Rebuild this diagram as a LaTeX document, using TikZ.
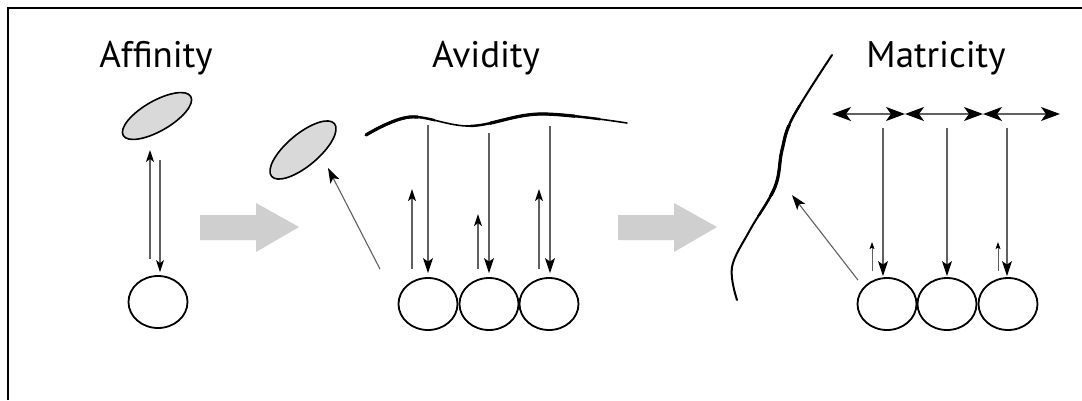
\documentclass[tikz,border=0pt]{standalone}
\usepackage{fontspec}
\setmainfont{PT Sans}
\usetikzlibrary{shapes.geometric,arrows.meta,calc}
\begin{document}
\begin{tikzpicture}[x=1pt,y=-1pt,
  cell/.style={draw=black,line width=1.8pt,ellipse,minimum width=59pt,minimum height=52pt,inner sep=0pt},
  ligand/.style={draw=black,line width=1.6pt,fill=gray!30,ellipse,inner sep=0pt},
  thin/.style={draw=gray!75!black,line width=1.1pt,-{Stealth[length=15pt,width=10pt,inset=3.5pt,black]}},
  thinup/.style={draw=gray!75!black,line width=1.1pt,-{Stealth[length=12pt,width=8pt,inset=3pt,black]}},
  tiny/.style={draw=gray!75!black,line width=0.8pt,-{Stealth[length=7pt,width=5pt,inset=1.5pt,black]}},
  dbl/.style={draw=gray!75!black,line width=1.3pt,{Stealth[length=19pt,width=14pt,inset=5pt,black]}-{Stealth[length=19pt,width=14pt,inset=5pt,black]}},
  block/.style={fill=gray!38,draw=none},
  title/.style={font=\fontsize{37}{40}\selectfont,anchor=base,inner sep=0pt},
  matrix line/.style={line width=1.6pt,line cap=round},
  matrix mid/.style={line width=2.4pt,line cap=round},
  matrix thick/.style={line width=3.2pt,line cap=round}]
\useasboundingbox (0,0) rectangle (1082,400);
\fill[white] (0,0) rectangle (1082,400);
\draw[line width=2.4pt] (8,400) -- (8,8) -- (1082,8);

% titles
\node[title] (taff) at (156,67) {Affinity};
\node[title] (tavi) at (486,67) {Avidity};
\node[title] (tmat) at (936,67) {Matricity};

% block arrows
\path[block] (200,215) -- (256,215) -- (256,203) -- (299,227) -- (256,252) -- (256,240) -- (200,240) -- cycle;
\path[block] (618,215) -- (674,215) -- (674,203) -- (717,227) -- (674,252) -- (674,240) -- (618,240) -- cycle;

% Affinity
\node[ligand,minimum width=78pt,minimum height=30pt,rotate=30] (l1) at (157,116) {};
\node[cell] (c1) at (158,302) {};
\draw[thinup] ($(c1.north)+(-8,-16)$) -- ($(l1.center)+(-7,34)$);
\draw[thinup] ($(l1.center)+(3,44)$) -- ($(c1.north)+(2,-3)$);

% Avidity
\node[ligand,minimum width=82pt,minimum height=32pt,rotate=40] (l2) at (303,150) {};
\node[cell] (a1) at (428,304) {};
\node[cell] (a2) at (489,304) {};
\node[cell] (a3) at (549,304) {};
\def\avline{plot[smooth,tension=0.6] coordinates {(366,135) (410,117) (470,126) (540,114) (627,123)}}
\draw[matrix line] \avline;
\begin{scope}
  \clip (350,100) rectangle (435,145) (470,100) rectangle (600,145);
  \draw[matrix mid] \avline;
\end{scope}
\begin{scope}
  \clip (350,100) rectangle (418,145) (490,100) rectangle (575,145);
  \draw[matrix thick] \avline;
\end{scope}
\coordinate (w1) at (428,125);
\coordinate (w2) at (489,133);
\coordinate (w3) at (550,126);
\draw[thin] (w1) -- ($(a1.north)+(0,-4)$);
\draw[thin] (w2) -- ($(a2.north)+(0,-4)$);
\draw[thin] (w3) -- ($(a3.north)+(1,-4)$);
\draw[thinup] ($(a1.north)+(-16,-8)$) -- ($(a1.north)+(-16,-88)$);
\draw[thinup] ($(a2.north)+(-11,-8)$) -- ($(a2.north)+(-11,-63)$);
\draw[thinup] ($(a3.north)+(-10,-8)$) -- ($(a3.north)+(-10,-88)$);
\draw[thin] ($(a1.north)+(-48,-8)$) -- ($(l2.center)+(25,18)$);

% Matricity
\def\mtline{plot[smooth,tension=0.6] coordinates {(832,55) (793,117) (782,150) (775,187) (750,230) (732,267) (737,300)}}
\draw[matrix line,line width=2pt] \mtline;
\begin{scope}
  \clip (700,105) rectangle (810,215);
  \draw[matrix mid] \mtline;
\end{scope}
\begin{scope}
  \clip (700,125) rectangle (800,195);
  \draw[matrix thick] \mtline;
\end{scope}
\node[cell] (m1) at (887,304) {};
\node[cell] (m2) at (947,304) {};
\node[cell] (m3) at (1008,304) {};
\coordinate (h0) at (832,114);
\coordinate (h1) at (905,114);
\coordinate (h2) at (983,114);
\coordinate (h3) at (1060,114);
\draw[dbl] (h0) -- (h1);
\draw[dbl] (h1) -- (h2);
\draw[dbl] (h2) -- (h3);
\draw[thin] (883,128) -- ($(m1.north)+(-4,-1)$);
\draw[thin] (947,128) -- ($(m2.north)+(0,-1)$);
\draw[thin] (1007,128) -- ($(m3.north)+(-1,-1)$);
\draw[tiny] ($(m1.north)+(-15,-6)$) -- ($(m1.north)+(-15,-35)$);
\draw[tiny] ($(m3.north)+(-10,-6)$) -- ($(m3.north)+(-10,-35)$);
\draw[thin] ($(m1.north)+(-29,3)$) -- (792,195);
\end{tikzpicture}
\end{document}
